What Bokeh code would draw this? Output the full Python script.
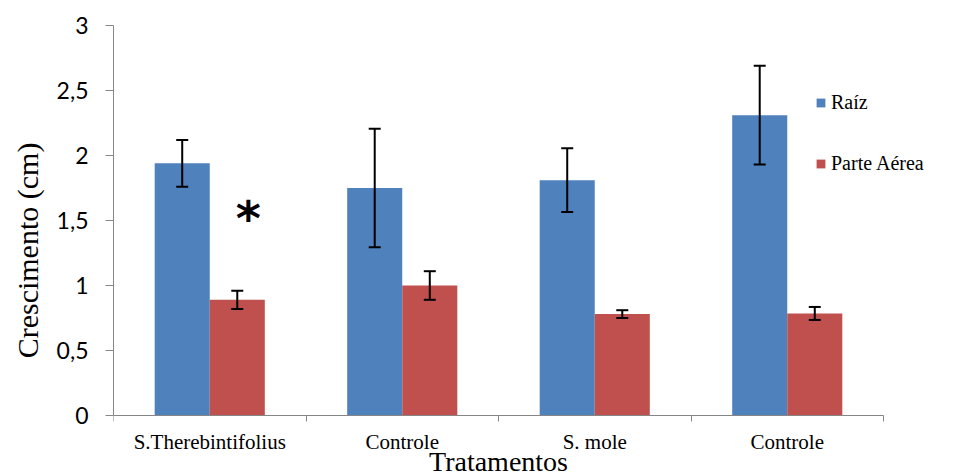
from bokeh.plotting import figure
from bokeh.models import (ColumnDataSource, Range1d, FixedTicker, Whisker, TeeHead,
                          Legend, LegendItem, CustomJSTickFormatter)
from bokeh.core.properties import value
from bokeh.embed import file_html
from bokeh.resources import INLINE

# ---- data ----
categories = ["S.Therebintifolius", "Controle", "S. mole", "Controle"]
raiz = [1.94, 1.75, 1.81, 2.31]
raiz_err = [0.18, 0.455, 0.245, 0.38]
aerea = [0.89, 1.00, 0.78, 0.785]
aerea_err = [0.07, 0.11, 0.03, 0.05]
y_ticks = [0, 0.5, 1, 1.5, 2, 2.5, 3]
series_names = ["Raíz", "Parte Aérea"]
x_title = "Tratamentos"
y_title = "Crescimento (cm)"
sig_mark = "*"
sig_pos = (0, 1.52)   # category index, value

BLUE = "#4F81BD"
RED = "#C0504D"
GRAY = "#868686"

n = len(categories)
bar_w = 0.286
idx = list(range(n))
xb = [i + 0.5 - bar_w / 2 for i in idx]
xr = [i + 0.5 + bar_w / 2 for i in idx]

src_b = ColumnDataSource(dict(x=xb, top=raiz,
                              lo=[v - e for v, e in zip(raiz, raiz_err)],
                              hi=[v + e for v, e in zip(raiz, raiz_err)]))
src_r = ColumnDataSource(dict(x=xr, top=aerea,
                              lo=[v - e for v, e in zip(aerea, aerea_err)],
                              hi=[v + e for v, e in zip(aerea, aerea_err)]))

W, H = 954, 475
LEFT, TOP = 113, 25
P_BOTTOM = 0
px_per_x = 192.5
px_per_y = 130.0
x_end = (W - LEFT) / px_per_x
y_start = 3 - (H - TOP - P_BOTTOM) / px_per_y

p = figure(width=W, height=H, x_range=Range1d(0, x_end), y_range=Range1d(y_start, 3),
           output_backend="svg", toolbar_location=None,
           min_border_left=LEFT, min_border_right=0, min_border_top=TOP, min_border_bottom=0)
p.outline_line_color = None
p.xgrid.visible = False
p.ygrid.visible = False
p.background_fill_color = "white"
p.border_fill_color = "white"

rb = p.vbar(x="x", top="top", bottom=0, width=bar_w, source=src_b, fill_color=BLUE, line_color=None)
rr = p.vbar(x="x", top="top", bottom=0, width=bar_w, source=src_r, fill_color=RED, line_color=None)

for src in (src_b, src_r):
    w = Whisker(source=src, base="x", upper="hi", lower="lo", line_color="black", line_width=2,
                level="overlay",
                upper_head=TeeHead(size=12, line_color="black", line_width=2),
                lower_head=TeeHead(size=12, line_color="black", line_width=2))
    p.add_layout(w)

# y axis
ya = p.yaxis[0]
ya.bounds = (0, 3)
ya.ticker = FixedTicker(ticks=y_ticks)
ya.formatter = CustomJSTickFormatter(code="return tick.toString().replace('.', ',');")
ya.axis_line_color = GRAY
ya.major_tick_line_color = GRAY
ya.major_tick_in = 0
ya.major_tick_out = 8
ya.minor_tick_line_color = None
ya.major_label_standoff = 17
ya.major_label_text_font = "Lato"
ya.major_label_text_font_size = "23px"
ya.major_label_text_color = "black"
ya.axis_label = y_title
ya.axis_label_text_font = "Liberation Serif"
ya.axis_label_text_font_size = "30px"
ya.axis_label_text_font_style = "normal"
ya.axis_label_text_color = "black"
ya.axis_label_standoff = 10

# x axis: line at y=0 with boundary ticks
xa = p.xaxis[0]
xa.fixed_location = 0
xa.bounds = (0, n)
xa.ticker = FixedTicker(ticks=list(range(n + 1)))
xa.axis_line_color = GRAY
xa.major_tick_line_color = GRAY
xa.major_tick_in = 0
xa.major_tick_out = 6
xa.minor_tick_line_color = None
xa.major_label_text_font_size = "0px"
xa.major_label_standoff = 0

# category labels and x title
p.text(x=[i + 0.5 for i in idx], y=[-0.2] * n, text=categories,
       text_font=value("Liberation Serif"), text_font_size="21px",
       text_align="center", text_baseline="middle", text_color="black")
p.text(x=[n / 2], y=[-0.352], text=[x_title],
       text_font=value("Liberation Serif"), text_font_size="28px",
       text_align="center", text_baseline="middle", text_color="black")

# significance mark
p.text(x=[sig_pos[0] + 0.5 + bar_w * 0.7], y=[sig_pos[1]], text=[sig_mark],
       text_font=value("DejaVu Sans"), text_font_style="bold", text_font_size="48px",
       text_align="center", text_baseline="middle", text_color="black")

legend = Legend(items=[LegendItem(label=series_names[0], renderers=[rb]),
                       LegendItem(label=series_names[1], renderers=[rr])],
                location=(702, 300 - P_BOTTOM), orientation="vertical",
                glyph_width=11, glyph_height=11, label_standoff=5, spacing=38,
                padding=0, margin=0, border_line_color=None, background_fill_alpha=0,
                label_text_font="Liberation Serif", label_text_font_size="20px",
                label_text_color="black")
p.add_layout(legend, "center")

open("out.html", "w").write(file_html(p, INLINE))
